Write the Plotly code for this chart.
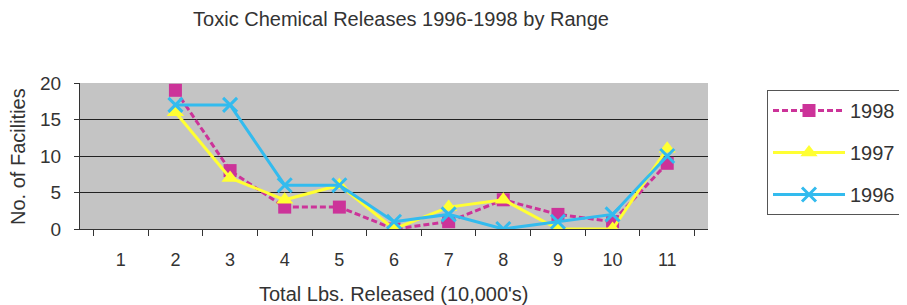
import plotly.graph_objects as go

categories = ["1", "2", "3", "4", "5", "6", "7", "8", "9", "10", "11"]
y1998 = [None, 19, 8, 3, 3, 0, 1, 4, 2, 1, 9]
y1997 = [None, 16, 7, 4, 6, 0, 3, 4, 0, 0, 11]
y1996 = [None, 17, 17, 6, 6, 1, 2, 0, 1, 2, 10]

FONT = "Liberation Sans, Arial, sans-serif"
TXT = "#333333"
W, H = 899, 297  # page body has an 8px margin

fig = go.Figure()
fig.add_trace(go.Scatter(x=categories, y=y1998, name="1998", legendgroup="a", mode="lines+markers",
                         line=dict(color="#cc3399", width=3, dash="6px,3px"),
                         marker=dict(symbol="square", size=13, color="#cc3399")))
fig.add_trace(go.Scatter(x=categories, y=y1997, name="1997", legendgroup="b", mode="lines+markers",
                         line=dict(color="#ffff33", width=3),
                         marker=dict(symbol="triangle-up", size=15, color="#ffff33")))
fig.add_trace(go.Scatter(x=categories, y=y1996, name="1996", legendgroup="c", mode="lines+markers",
                         line=dict(color="#33bbee", width=3),
                         marker=dict(symbol="x-thin", size=14, color="#33bbee",
                                     line=dict(color="#33bbee", width=3))))

fig.update_layout(
    width=W, height=H,
    margin=dict(l=72, r=W - 72 - 628, t=75, b=H - 75 - 146, autoexpand=False),
    paper_bgcolor="white",
    plot_bgcolor="#c4c4c4",
    font=dict(family=FONT, color=TXT),
    title=dict(text="Toxic Chemical Releases 1996-1998 by Range", x=393 / W, xanchor="center",
               xref="container", y=1 - 11 / H, yref="container", yanchor="middle",
               font=dict(size=20, color=TXT)),
    showlegend=True,
    legend=dict(x=(767 - 80) / 628, y=(229 - 90) / 146, xanchor="left", yanchor="top",
                bordercolor="#555555", borderwidth=1, bgcolor="white",
                font=dict(size=20, color=TXT), traceorder="grouped", tracegroupgap=13,
                itemwidth=72, entrywidth=150),
    xaxis=dict(type="category", tickson="boundaries", ticks="outside", ticklen=6,
               tickcolor=TXT, showline=True, linecolor=TXT, linewidth=1,
               showgrid=False, tickfont=dict(size=18, color=TXT), ticklabelstandoff=14,
               automargin=False),
    yaxis=dict(range=[0, 20], dtick=5, ticks="outside", ticklen=5, tickcolor=TXT,
               showline=True, linecolor=TXT, linewidth=1, showgrid=True,
               gridcolor="#222222", gridwidth=1, zeroline=False,
               tickfont=dict(size=19, color=TXT), ticklabelstandoff=9, automargin=False),
    annotations=[
        dict(text="No. of Facilities", xref="paper", yref="paper", x=(18 - 80) / 628, y=0.5,
             xanchor="center", yanchor="middle", textangle=-90, showarrow=False,
             font=dict(size=20, color=TXT)),
        dict(text="Total Lbs. Released (10,000's)", xref="paper", yref="paper",
             x=(394 - 80) / 628, y=(229 - 294) / 146, xanchor="center", yanchor="middle",
             showarrow=False, font=dict(size=20, color=TXT)),
    ],
)

fig.write_html("out.html")
